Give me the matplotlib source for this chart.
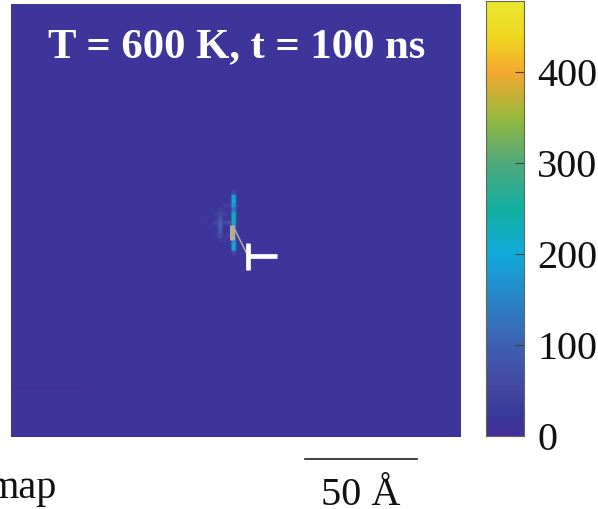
import numpy as np
import matplotlib
matplotlib.use('Agg')
import matplotlib.pyplot as plt
from matplotlib.colors import LinearSegmentedColormap

plt.rcParams['font.family'] = ['Liberation Serif', 'DejaVu Serif']

W, H = 598, 509

n_cells = 100
background = 14
vmax = 478

# hot column of the map, rows counted from the top
main_col = 49
main_rows = [43, 44, 45, 46, 47, 48, 49, 50, 51, 52, 53, 54, 55, 56, 57]
main_vals = [50, 190, 195, 175, 130, 225, 235, 225, 150, 120, 120, 140, 215, 195, 50]

# fainter column and halo to the left of it
side_col = 46
side_rows = [47, 48, 49, 50, 51, 52, 53, 54]
side_vals = [40, 55, 80, 95, 100, 85, 60, 35]

halo_cols = [42, 43, 44, 45, 45, 44, 47, 47, 48, 48, 47, 48, 50, 50, 47, 45]
halo_rows = [50, 49, 51, 48, 53, 47, 46, 54, 46, 53, 50, 50, 48, 52, 48, 50]
halo_vals = [24, 27, 32, 40, 34, 30, 38, 30, 42, 45, 55, 60, 28, 28, 45, 50]

# dark streak in the lower left corner
streak_row = 88
streak_cols = [0, 2, 4, 6, 8, 10, 12, 14, 16]
streak_vals = [5, 4, 5, 4, 4, 5, 4, 5, 6]

cbar_ticks = [0, 100, 200, 300, 400]
cmap_vals = [0, 25, 50, 100, 150, 200, 250, 300, 350, 400, 440, 478]
cmap_cols = ['#46309b', '#383a9a', '#45469f', '#3f60b2', '#2a85c8', '#10aadc',
             '#14b0a0', '#4fa97c', '#97b83e', '#f5a830', '#f0d820', '#e8e830']

cmap = LinearSegmentedColormap.from_list(
    'parula_like', [(v / vmax, c) for v, c in zip(cmap_vals, cmap_cols)])

grid = np.full((n_cells, n_cells), float(background))
grid[main_rows, main_col] = main_vals
grid[side_rows, side_col] = side_vals
grid[halo_rows, halo_cols] = halo_vals
for c, v in zip(streak_cols, streak_vals):
    grid[streak_row, c:c + 2] = v


def px_axes(x0, y0, x1, y1):
    return fig.add_axes([x0 / W, 1 - y1 / H, (x1 - x0) / W, (y1 - y0) / H])


fig = plt.figure(figsize=(W / 100, H / 100), dpi=100)

ax = px_axes(11, 4, 461, 437)
# doubled cells so the smoothing only softens the cell edges
ax.imshow(grid.repeat(2, axis=0).repeat(2, axis=1), cmap=cmap, vmin=0, vmax=vmax,
          aspect='auto', interpolation='bilinear')
ax.set_xticks([])
ax.set_yticks([])
for s in ax.spines.values():
    s.set_visible(False)

# dislocation line and symbol, in figure pixels
ov = fig.add_axes([0, 0, 1, 1], facecolor='none')
ov.set_xlim(0, W)
ov.set_ylim(H, 0)
ov.axis('off')
ov.plot([232, 232], [225, 240], color='#b5ae95', lw=3.6, solid_capstyle='butt')
ov.plot([233, 247], [226, 254], color='#b0aca0', lw=1.1)
ov.plot([248, 248], [243, 270], color='white', lw=3.4, solid_capstyle='butt')
ov.plot([248, 277], [256, 256], color='white', lw=3.4, solid_capstyle='butt')
ov.plot([305, 417], [459, 459], color='#222222', lw=1.2)

ov.text(236.5, 47, 'T = 600 K, t = 100 ns', color='white', fontsize=30.7,
        fontweight='bold', ha='center', va='center')
ov.text(361, 505, '50 Å', color='#111111', fontsize=29, ha='center', va='baseline')
ov.text(57, 498, 'map', color='#111111', fontsize=29, ha='right', va='baseline')

# colorbar
cax = px_axes(486, 1, 524, 436)
vals = np.linspace(vmax, 0, 256).reshape(-1, 1)
cax.imshow(vals, cmap=cmap, vmin=0, vmax=vmax, aspect='auto',
           extent=[0, 1, 0, vmax])
cax.set_xticks([])
cax.yaxis.tick_right()
cax.set_yticks(cbar_ticks)
cax.set_yticklabels([str(t) for t in cbar_ticks], fontsize=29, color='#111111')
cax.tick_params(axis='y', direction='in', length=6.5, width=0.8, color='#444433', pad=9.5)
for s in cax.spines.values():
    s.set_color('#666655')
    s.set_linewidth(0.8)

fig.savefig('out.png', dpi=100)
